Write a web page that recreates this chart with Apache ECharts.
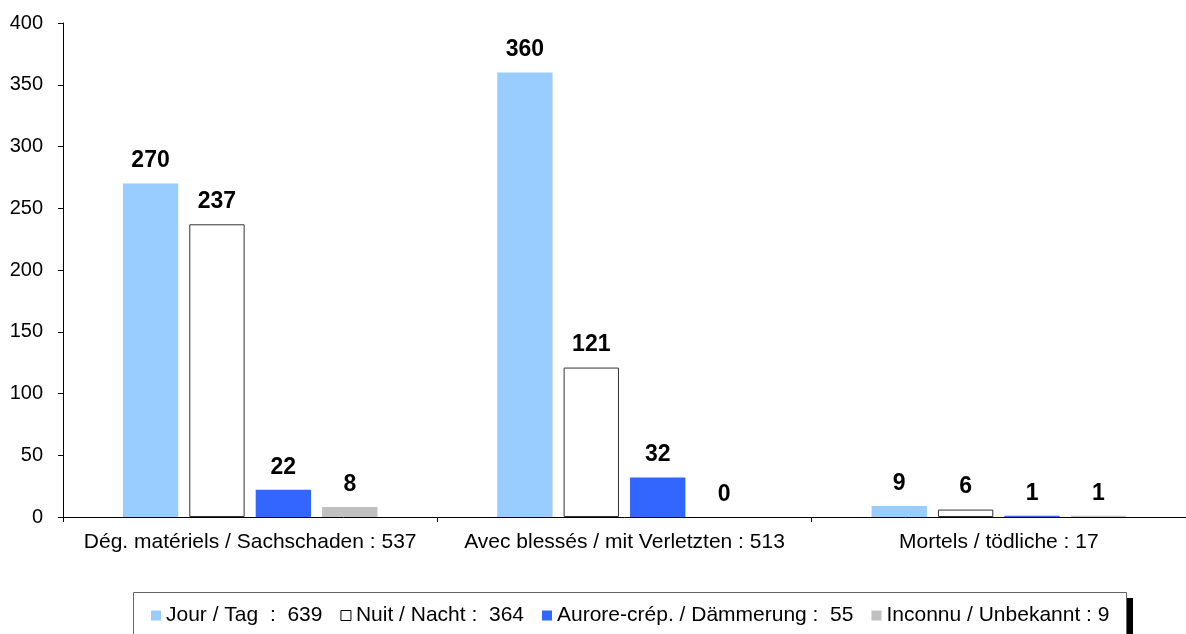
<!DOCTYPE html>
<html><head><meta charset="utf-8">
<script src="https://cdn.jsdelivr.net/npm/echarts@6/dist/echarts.min.js"></script>
<style>html,body{margin:0;padding:0;background:#fff}#c{width:1186px;height:634px}</style>
</head><body><div id="c"></div>
<script>
const categories = ['Dég. matériels / Sachschaden : 537', 'Avec blessés / mit Verletzten : 513', 'Mortels / tödliche : 17'];
const seriesNames = ['Jour / Tag  :  639', 'Nuit / Nacht :  364', 'Aurore-crép. / Dämmerung :  55', 'Inconnu / Unbekannt : 9'];
const jour = [270, 360, 9];
const nuit = [237, 121, 6];
const aurore = [22, 32, 1];
const inconnu = [8, 0, 1];
const yTicks = [0, 50, 100, 150, 200, 250, 300, 350, 400];

const colors = ['#99CCFF', '#FFFFFF', '#3366FF', '#C0C0C0'];
const values = [jour, nuit, aurore, inconnu];
const font = 'Liberation Sans, Arial, sans-serif';

const chart = echarts.init(document.getElementById('c'), null, {renderer: 'canvas'});
chart.setOption({
  animation: false,
  backgroundColor: '#fff',
  grid: {left: 63, top: 23, width: 1131, height: 494, containLabel: false},
  graphic: [
    {type: 'rect', z: 0, shape: {x: 139, y: 598, width: 994, height: 50}, style: {fill: '#000'}},
    {type: 'rect', z: 1, shape: {x: 133.5, y: 592.5, width: 993, height: 50}, style: {fill: '#fff', stroke: '#666', lineWidth: 1}}
  ],
  legend: {
    z: 5,
    left: 151, top: 605, padding: 0,
    itemWidth: 10, itemHeight: 10, itemGap: 18,
    icon: 'rect',
    textStyle: {fontFamily: font, fontSize: 21, color: '#000'},
    data: seriesNames.map((n, i) => ({name: n, itemStyle: {color: colors[i], borderColor: i === 1 ? '#000' : colors[i], borderWidth: i === 1 ? 1 : 0}}))
  },
  xAxis: {
    type: 'category', data: categories,
    axisLine: {lineStyle: {color: '#000', width: 1}},
    axisTick: {show: true, length: 5, interval: 0, lineStyle: {color: '#000'}},
    axisLabel: {fontFamily: font, fontSize: 21, color: '#000', margin: 15, interval: 0, hideOverlap: false}
  },
  yAxis: {
    type: 'value', min: 0, max: 400, interval: 50,
    axisLine: {show: true, lineStyle: {color: '#000', width: 1}},
    axisTick: {show: true, length: 5, lineStyle: {color: '#000'}},
    splitLine: {show: false},
    axisLabel: {fontFamily: font, fontSize: 20, color: '#000', margin: 20,
      formatter: v => yTicks.includes(v) ? String(v) : ''}
  },
  series: values.map((d, i) => ({
    type: 'bar', name: seriesNames[i], data: d,
    barGap: '20%', barCategoryGap: '32%',
    itemStyle: {color: colors[i], borderColor: i === 1 ? '#333' : colors[i], borderWidth: i === 1 ? 1 : 0},
    label: {show: true, position: 'top', distance: 11, fontFamily: font, fontSize: 23, fontWeight: 'bold', color: '#000'}
  }))
});
</script></body></html>
